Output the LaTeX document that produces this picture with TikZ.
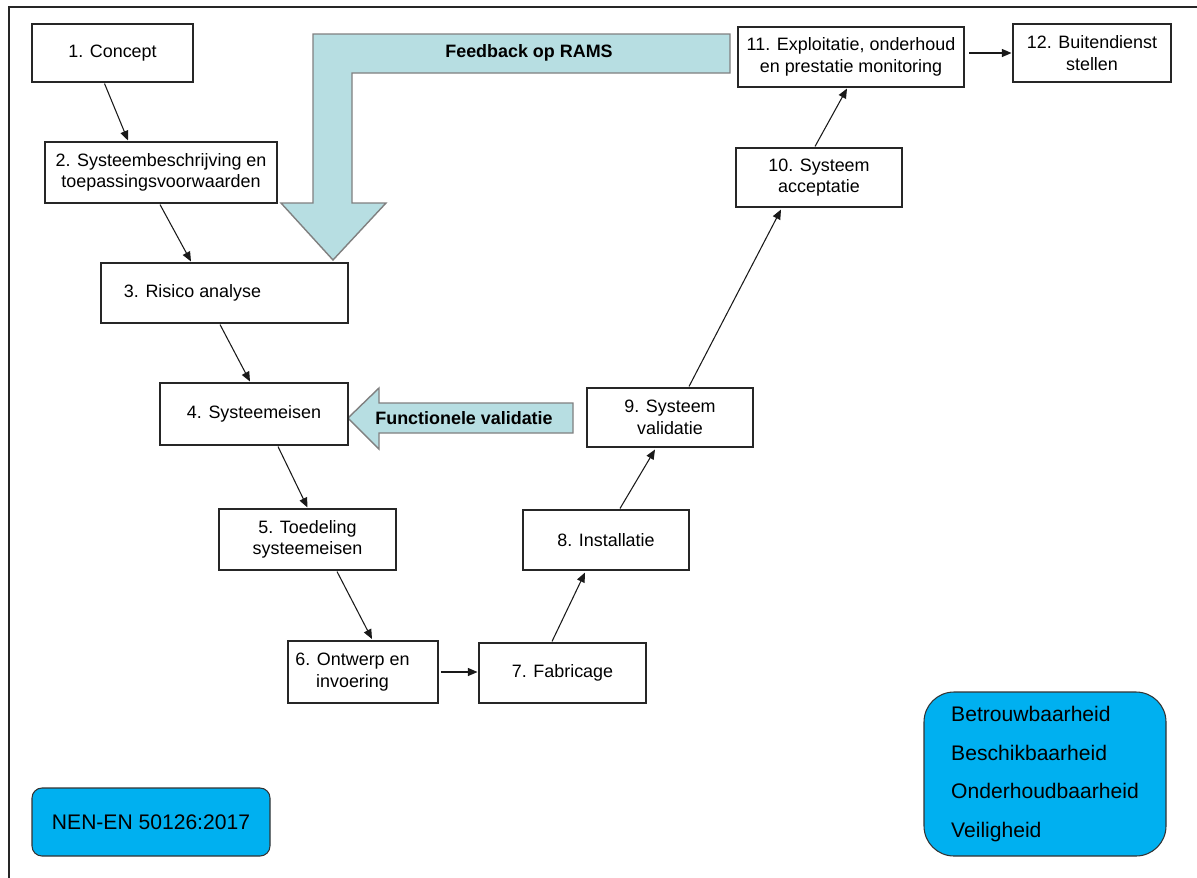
\documentclass[tikz,border=0pt]{standalone}
\usepackage{fontspec}
\setmainfont{Liberation Sans}
\usetikzlibrary{calc,arrows.meta}
\newdimen\pxu \pxu=0.02cm
\definecolor{feedfill}{RGB}{183,222,226}
\definecolor{feededge}{RGB}{128,128,128}
\definecolor{normblue}{RGB}{0,176,240}

\begin{document}
\begin{tikzpicture}[x=0.02cm,y=-0.02cm,
  every node/.style={font=\fontsize{10.2}{12.3}\selectfont, text=black},
  wh/.style 2 args={minimum width=#1*0.02cm, minimum height=#2*0.02cm},
  stage/.style={draw=black!85, line width=0.6pt, fill=white, align=center, inner sep=0pt},
  conn/.style={line width=0.6pt, draw=black!90, -{Triangle[length=5.5pt,width=4.6pt]}},
  band/.style={fill=feedfill, draw=feededge, line width=0.8pt},
  bandlabel/.style={font=\bfseries\fontsize{10.2}{12}\selectfont},
  infobox/.style={draw=black!80, line width=0.6pt, fill=normblue, inner sep=0pt,
                  font=\fontsize{12}{14}\selectfont}]

\useasboundingbox (0,0) rectangle (1197,877);
\fill[white] (0,0) rectangle (1197,877);

% page frame (open to the right and bottom)
\draw[line width=0.8pt, black!85] (1210,7) -- (9,7) -- (9,890);

% feedback band from operation back to risk analysis
\draw[band] (730,34) -- (313,34) -- (313,203) -- (281,203) -- (333,260)
  -- (386,203) -- (352,203) -- (352,73) -- (730,73) -- cycle;
\node[bandlabel] (fbl) at (529,53) {Feedback op RAMS};

% functional validation band
\draw[band] (573,403) -- (379,403) -- (379,388) -- (348,418) -- (379,449)
  -- (379,433) -- (573,433) -- cycle;
\node[bandlabel] (fvl) at (464,418) {Functionele validatie};

% life-cycle stages
\node[stage, wh={161}{58}]  (n1)  at (112.5,53)  {1. Concept};
\node[stage, wh={232}{61}]  (n2)  at (161,172.5) {2. Systeembeschrijving en\\toepassingsvoorwaarden};
\node[stage, wh={247}{60}]  (n3)  at (224.5,293) {3. Risico analyse\hspace*{64\pxu}};
\node[stage, wh={188}{62}]  (n4)  at (254,414)   {4. Systeemeisen};
\node[stage, wh={177}{61}]  (n5)  at (307.5,539.5) {5. Toedeling\\systeemeisen};
\node[stage, wh={150}{62}, line width=1.1pt] (n6) at (363,672)
  {6. Ontwerp en\hspace*{21\pxu}\\invoering\hspace*{21\pxu}};
\node[stage, wh={167}{60}]  (n7)  at (562.5,673) {7. Fabricage};
\node[stage, wh={166}{60}]  (n8)  at (606,540)   {8. Installatie};
\node[stage, wh={166}{59}]  (n9)  at (670,417.5) {9. Systeem\\validatie};
\node[stage, wh={166}{59}]  (n10) at (819,177.5) {10. Systeem\\acceptatie};
\node[stage, wh={226}{60}]  (n11) at (851,57)    {11. Exploitatie, onderhoud\\en prestatie monitoring};
\node[stage, wh={158}{58}]  (n12) at (1092,53)   {12. Buitendienst\\stellen};

% flow between stages
\draw[conn] ($(n1.south)+(-8,1)$)   -- ($(n2.north)+(-33,-1)$);
\draw[conn] ($(n2.south)+(-1,1)$)   -- ($(n3.north)+(-33.5,-1)$);
\draw[conn] ($(n3.south)+(-4.5,1)$) -- ($(n4.north)+(-4,-1)$);
\draw[conn] ($(n4.south)+(24,1)$)   -- ($(n5.north)+(0,-1)$);
\draw[conn] ($(n5.south)+(29.5,1)$) -- ($(n6.north)+(9,-1)$);
\draw[conn] ($(n6.east)+(2,0)$)     -- ($(n6.east -| n7.west)+(-1,0)$);
\draw[conn] ($(n7.north)+(-10.5,-1)$) -- ($(n8.south)+(-21,2)$);
\draw[conn] ($(n8.north)+(14,-1)$)  -- ($(n9.south)+(-15,2)$);
\draw[conn] ($(n9.north)+(19,-1)$)  -- ($(n10.south)+(-38,2)$);
\draw[conn] ($(n10.north)+(-4,-1)$) -- ($(n11.south)+(-4,1)$);
\draw[conn] ($(n12.west)+(-43,0)$)  -- ($(n12.west)+(-1,0)$);

% standard reference and RAMS aspects
\node[infobox, wh={238}{68}, rounded corners=0.2cm] (norm) at (151,822)
  {NEN-EN 50126:2017};
\node[infobox, wh={242}{164}, rounded corners=0.6cm, align=left,
      font=\fontsize{12}{21.9}\selectfont] (rams) at (1045,774)
  {Betrouwbaarheid\\Beschikbaarheid\\Onderhoudbaarheid\\Veiligheid};

\end{tikzpicture}
\end{document}
